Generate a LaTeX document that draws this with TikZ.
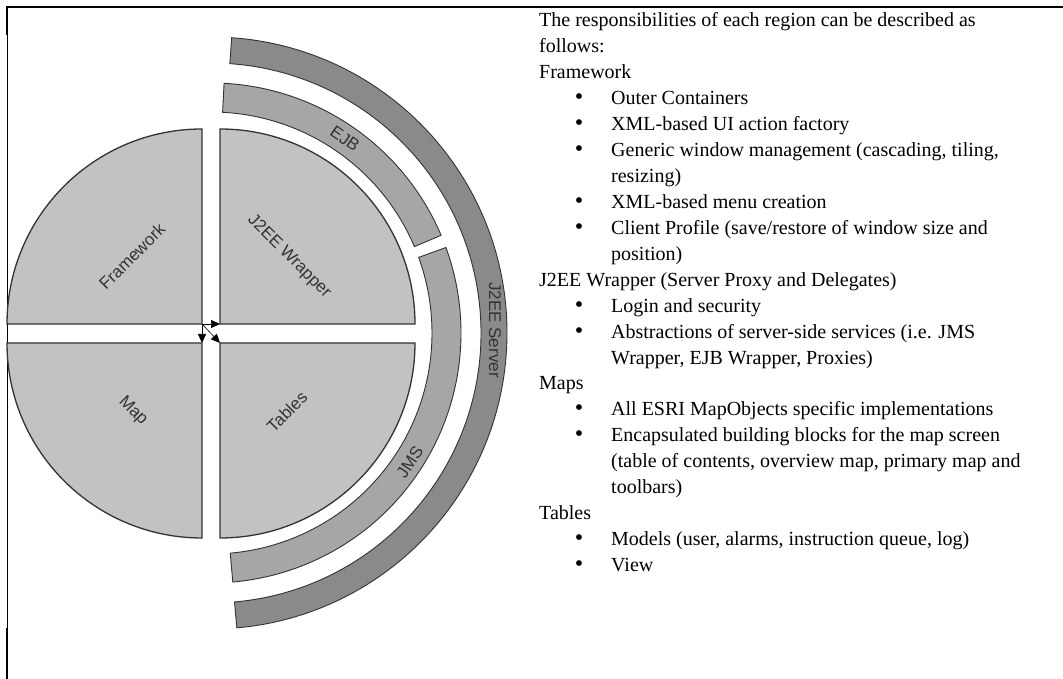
\documentclass[tikz,border=0pt]{standalone}
\usepackage{fontspec}
\setmainfont{Liberation Serif}
\newfontfamily\labelfont{Liberation Sans}
\usetikzlibrary{arrows.meta}
\definecolor{quadfill}{gray}{0.76}
\definecolor{ringmid}{gray}{0.65}
\definecolor{ringdark}{gray}{0.54}
\definecolor{edgegray}{gray}{0.2}
\definecolor{labelgray}{gray}{0.2}
\begin{document}
\begin{tikzpicture}[x=1pt,y=1pt,
  quad/.style={fill=quadfill, draw=edgegray, line width=1.3pt},
  ringouter/.style={fill=ringdark, draw=edgegray, line width=0.9pt},
  ringinner/.style={fill=ringmid, draw=edgegray, line width=0.9pt},
  lbl/.style={font=\labelfont\fontsize{17}{20}\selectfont, text=labelgray, inner sep=0},
  conn/.style={line width=0.6pt, -{Triangle[length=9pt,width=8pt]}},
  body/.style={anchor=base west, inner sep=0, font=\fontsize{20}{24}\selectfont},
  bul/.style={anchor=base, inner sep=0, font=\fontsize{24}{24}\selectfont},
]
\useasboundingbox (0,0) rectangle (1063,679);

% page frame
\draw[line width=2pt] (6,672) -- (1063,672);
\draw[line width=2.2pt] (7,673) -- (7,644);
\draw[line width=0.8pt] (7,644) -- (7,51);
\draw[line width=2.2pt] (7,51) -- (7,0);

% server and middleware rings around the client
\begin{scope}[shift={(211,346)}]
  \draw[ringouter] (86:296) arc[start angle=86, end angle=-85, radius=296]
    -- (-85:270) arc[start angle=-85, end angle=86, radius=270] -- cycle;
  \draw[ringinner] (87:250) arc[start angle=87, end angle=23, radius=250]
    -- (23:221) arc[start angle=23, end angle=87, radius=221] -- cycle;
  \draw[ringinner] (20:250) arc[start angle=20, end angle=-85, radius=250]
    -- (-85:221) arc[start angle=-85, end angle=20, radius=221] -- cycle;
  \node[lbl, rotate=-35] (ejb) at (55.4:236) {EJB};
  \node[lbl, rotate=57] (jms) at (-33:237) {JMS};
  \node[lbl, rotate=-90] (srv) at (0.6:284) {J2EE Server};
\end{scope}

% client quadrants
\coordinate (fwc) at (202,355);
\coordinate (jwc) at (220,355);
\coordinate (mpc) at (202,336);
\coordinate (tbc) at (220,336);
\draw[quad] (fwc) -- ++(-195,0) arc[start angle=180, end angle=90, radius=195] -- cycle;
\draw[quad] (jwc) -- ++(0,195) arc[start angle=90, end angle=0, radius=195] -- cycle;
\draw[quad] (mpc) -- ++(0,-195) arc[start angle=270, end angle=180, radius=195] -- cycle;
\draw[quad] (tbc) -- ++(195,0) arc[start angle=0, end angle=-90, radius=195] -- cycle;

\node[lbl, rotate=45] (fw) at (132,422.5) {Framework};
\node[lbl, rotate=-45] (jw) at (289,422.5) {J2EE Wrapper};
\node[lbl, rotate=-45] (mp) at (133,268) {Map};
\node[lbl, rotate=45] (tb) at (287,267) {Tables};

% dependencies between the quadrants
\draw[conn] (fwc) -- (jwc);
\draw[conn] (fwc) -- (mpc);
\draw[conn] (fwc) -- (tbc);

% description of the regions
\node[body] (t0) at (539,652.3) {The responsibilities of each region can be described as};
\node[body] (t1) at (539,626.35) {follows:};
\node[body] (t2) at (539,600.4) {Framework};
\node[bul] (b3) at (579,574.45) {•};
\node[body] (t3) at (611,574.45) {Outer Containers};
\node[bul] (b4) at (579,548.5) {•};
\node[body] (t4) at (611,548.5) {XML-based UI action factory};
\node[bul] (b5) at (579,522.55) {•};
\node[body] (t5) at (611,522.55) {Generic window management (cascading, tiling,};
\node[body] (t6) at (611,496.6) {resizing)};
\node[bul] (b7) at (579,470.65) {•};
\node[body] (t7) at (611,470.65) {XML-based menu creation};
\node[bul] (b8) at (579,444.7) {•};
\node[body] (t8) at (611,444.7) {Client Profile (save/restore of window size and};
\node[body] (t9) at (611,418.75) {position)};
\node[body] (t10) at (539,392.8) {J2EE Wrapper (Server Proxy and Delegates)};
\node[bul] (b11) at (579,366.85) {•};
\node[body] (t11) at (611,366.85) {Login and security};
\node[bul] (b12) at (579,340.9) {•};
\node[body] (t12) at (611,340.9) {Abstractions of server-side services (i.e. JMS};
\node[body] (t13) at (611,314.95) {Wrapper, EJB Wrapper, Proxies)};
\node[body] (t14) at (539,289.0) {Maps};
\node[bul] (b15) at (579,263.05) {•};
\node[body] (t15) at (611,263.05) {All ESRI MapObjects specific implementations};
\node[bul] (b16) at (579,237.1) {•};
\node[body] (t16) at (611,237.1) {Encapsulated building blocks for the map screen};
\node[body] (t17) at (611,211.15) {(table of contents, overview map, primary map and};
\node[body] (t18) at (611,185.2) {toolbars)};
\node[body] (t19) at (539,159.25) {Tables};
\node[bul] (b20) at (579,133.3) {•};
\node[body] (t20) at (611,133.3) {Models (user, alarms, instruction queue, log)};
\node[bul] (b21) at (579,107.35) {•};
\node[body] (t21) at (611,107.35) {View};
\end{tikzpicture}
\end{document}
